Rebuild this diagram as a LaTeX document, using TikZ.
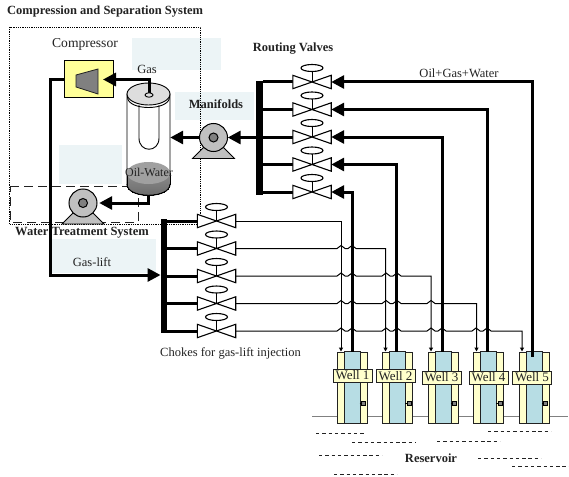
\documentclass[tikz,border=0pt]{standalone}
\usepackage{fontspec}
\setmainfont{Liberation Serif}
\usepackage{xcolor}
\definecolor{patchBlue}{HTML}{ECF4F6}
\definecolor{compYellow}{HTML}{FFFF99}
\definecolor{wellYellow}{HTML}{FFFFCC}
\definecolor{wellBlue}{HTML}{B7DDE4}
\definecolor{pumpGray}{HTML}{C0C0C0}
\definecolor{coreGray}{HTML}{808080}
\definecolor{capGray}{HTML}{DDDDDD}
\definecolor{darkText}{HTML}{222222}
\usepackage{tikz}
\usetikzlibrary{
    arrows.meta,
    shapes.geometric
}
\tikzset{
    % Base style for all labels
    plain label/.style={
        font=\fontsize{12.5}{13}\selectfont,
        text=darkText,
        inner sep=0pt,
    },
    bold label/.style={
        font=\fontsize{12.5}{13}\selectfont\bfseries,
        text=darkText,
        inner sep=0pt,
    },
    % Pale backing patches
    patch/.style={
        fill=patchBlue,
        draw=none,
    },
    % Valve body, the bow tie is drawn from its corners
    valve/.style={
        rectangle,
        minimum width=38pt,
        minimum height=13pt,
        inner sep=0pt,
    },
    bowtie/.style={
        draw=black,
        line width=1.1pt,
        fill=white,
    },
    % Pumps
    pump/.style={
        circle,
        draw=black,
        line width=1pt,
        fill=pumpGray,
        minimum size=28pt,
        inner sep=0pt,
    },
    pump foot/.style={
        draw=black,
        line width=0.8pt,
        fill=pumpGray,
    },
    % Heavy pipes
    pipe/.style={
        line width=3pt,
        draw=black,
    },
    pipe arrow/.style={
        pipe,
        -{Triangle[length=13pt, width=13pt]},
    },
    % Thin gas-lift lines
    lift line/.style={
        line width=1pt,
        draw=black,
        -{Triangle[length=4pt, width=4pt]},
    },
    % Manifold bars
    bar/.style={
        rectangle,
        fill=black,
        inner sep=0pt,
    },
    % Wells
    well/.style={
        rectangle,
        draw=darkText,
        line width=1pt,
        fill=wellYellow,
        minimum width=30pt,
        minimum height=71pt,
        inner sep=0pt,
    },
    well core/.style={
        draw=darkText,
        line width=1pt,
        fill=wellBlue,
    },
    well tag/.style={
        plain label,
        font=\fontsize{13}{14}\selectfont,
        rectangle,
        draw=darkText,
        line width=0.8pt,
        fill=wellYellow,
        minimum width=39pt,
        minimum height=13pt,
    },
    gauge/.style={
        rectangle,
        draw=black,
        line width=0.7pt,
        fill=coreGray,
        minimum size=4pt,
        inner sep=0pt,
    },
    % Reservoir strokes
    seam/.style={
        dashed,
        dash pattern=on 3.4pt off 2.9pt,
        line width=0.8pt,
        draw=darkText,
    },
}
\newcommand{\drawvalve}[1]{%
    \draw [bowtie] (#1.north west) -- (#1.south east) -- (#1.north east) -- (#1.south west) -- cycle;
    \draw [line width=1pt] (#1.center) -- ++(0,-11);
    \draw [bowtie] ([yshift=14pt]#1.center) ellipse [x radius=11pt, y radius=3.5pt];
}
\newcommand{\drawpumpbody}[1]{%
    \draw [pump foot] ([xshift=-21pt,yshift=-21pt]#1.center) -- ([xshift=-10pt,yshift=-10pt]#1.center)
        -- ([xshift=10pt,yshift=-10pt]#1.center) -- ([xshift=21pt,yshift=-21pt]#1.center) -- cycle;
    \node [pump] at (#1.center) {};
    \draw [line width=1pt, fill=coreGray] (#1.center) circle [radius=4.5pt];
}
\begin{document}
\begin{tikzpicture}[x=1pt, y=-1pt]
    \useasboundingbox (0,0) rectangle (569,476);

    % backing patches
    \fill [patch] (132,38) rectangle (221,70);
    \fill [patch] (175,92) rectangle (254,120);
    \fill [patch] (59,145) rectangle (122,184);
    \fill [patch] (52,239) rectangle (156,273);

    % system boxes
    \draw [densely dotted, line width=0.8pt] (9.5,27) rectangle (200.5,224);
    \draw [dashed, dash pattern=on 9pt off 5pt, line width=0.8pt, draw=darkText] (10,186) -- (138,186) -- (138,222) -- (10,222) -- cycle;

    % compressor
    \node (comp) [rectangle, draw=black, line width=1pt, fill=compYellow, minimum width=49pt, minimum height=37pt, inner sep=0pt] at (88.75,79.5) {};
    \draw [line width=0.8pt, draw=darkText, fill=coreGray] (76,75) -- (98,69) -- (98,94) -- (76,87) -- cycle;
    \coordinate (compin) at (103,79.5);

    % separator
    \node (sep) [rectangle, minimum width=43pt, minimum height=101pt, inner sep=0pt] at (148.5,144.5) {};
    \draw [line width=0.9pt, fill=white] (127,94) -- (127,184) .. controls (127,199) and (170,199) .. (170,184) -- (170,94) -- cycle;
    \draw [line width=0.9pt] (127.5,97) .. controls (127.5,111) and (169.5,111) .. (169.5,97);
    \draw [line width=0.9pt] (139,105) -- (139,138) .. controls (139,153) and (159,153) .. (159,138) -- (159,105);
    \draw [line width=0.9pt, fill=capGray] (148.5,94) ellipse [x radius=21.5pt, y radius=11pt];
    \draw [line width=0pt, top color=coreGray!90, bottom color=coreGray!80!black] (127,173) -- (127,184) .. controls (127,199) and (170,199) .. (170,184) -- (170,173) -- cycle;
    \draw [line width=0.9pt] (127,184) .. controls (127,199) and (170,199) .. (170,184);
    \fill [coreGray!75] (148.5,173) ellipse [x radius=21.5pt, y radius=11pt];
    \node (port) [ellipse, minimum width=8pt, minimum height=4.5pt, inner sep=0pt] at (149,95) {};

    % pumps
    \node (manpump) [circle, minimum size=28pt, inner sep=0pt] at (213.5,137.5) {};
    \drawpumpbody{manpump}
    \node (waterpump) [circle, minimum size=28pt, inner sep=0pt] at (83,203) {};
    \drawpumpbody{waterpump}

    % manifold bars
    \node (routebar) [bar, minimum width=7pt, minimum height=114pt] at (259.5,138) {};
    \node (chokebar) [bar, minimum width=6.5pt, minimum height=114pt] at (164,276) {};

    % routing valves
    \begin{scope}[node distance=27.5pt]
        \node (rv1) [valve] at (312,82) {};
        \node (rv2) [valve, below of=rv1] {};
        \node (rv3) [valve, below of=rv2] {};
        \node (rv4) [valve, below of=rv3] {};
        \node (rv5) [valve, below of=rv4] {};
    % chokes
        \node (ch1) [valve] at (216.5,221) {};
        \node (ch2) [valve, below of=ch1] {};
        \node (ch3) [valve, below of=ch2] {};
        \node (ch4) [valve, below of=ch3] {};
        \node (ch5) [valve, below of=ch4] {};
    \end{scope}

    % wells
    \draw [line width=1pt, draw=coreGray] (312,416) -- (568,416);
    \begin{scope}[node distance=45.5pt]
        \node (w1) [well] at (352,387.5) {};
        \node (w2) [well, right of=w1] {};
        \node (w3) [well, right of=w2] {};
        \node (w4) [well, right of=w3] {};
        \node (w5) [well, right of=w4] {};
    \end{scope}
    \foreach \i in {1,...,5} {
        \draw [well core] ([xshift=-8pt]w\i.north) rectangle ([xshift=8pt]w\i.south);
        \node (g\i) [gauge] at ([xshift=11.5pt,yshift=-15.5pt]w\i.center) {};
        \draw [line width=0.8pt] ([xshift=7.5pt,yshift=-15.5pt]w\i.center) -- (g\i.west);
    }

    % gas-lift lines with their hops
    \draw [lift line] (ch1.east) -| ([xshift=-11pt]w1.north);
    \foreach \c/\w/\s/\yc/\hops in {
        ch2/w2/-12/248.5/{341,352},
        ch3/w3/-12/276/{341,352,386,397},
        ch4/w4/-12/303.5/{341,352,386,397,431},
        ch5/w5/-12/331/{341,352,386,397,431,442,476,487}} {
        \draw [lift line] (\c.east) foreach \h in \hops { -- (\h-4,\yc) -- (\h,\yc-3) -- (\h+4,\yc) } -| ([xshift=\s pt]\w.north);
    }

    % heavy pipes
    \foreach \v in {rv1,rv2,rv3,rv4,rv5} {
        \draw [pipe] (routebar.east |- \v.west) -- (\v.west);
    }
    \foreach \v in {ch1,ch2,ch3,ch4,ch5} {
        \draw [pipe] (chokebar.east |- \v.west) -- (\v.west);
    }
    \draw [pipe arrow] ([xshift=0pt]w1.north) |- (rv5.east);
    \draw [pipe arrow] ([xshift=-1pt]w2.north) |- (rv4.east);
    \draw [pipe arrow] ([xshift=-1pt]w3.north) |- (rv3.east);
    \draw [pipe arrow] ([xshift=-1pt]w4.north) |- (rv2.east);
    \draw [pipe arrow] ([xshift=-2pt,yshift=-5pt]w5.north) |- (rv1.east);
    \draw [pipe arrow] (routebar.west |- manpump.east) -- (manpump.east);
    \draw [pipe arrow] (manpump.west) -- (sep.east |- manpump.west);
    \draw [pipe arrow] (sep.south) |- ([xshift=2pt]waterpump.east);
    \draw [pipe arrow] (port.center) |- (compin);
    \coordinate (liftturn) at (50,275);
    \draw [pipe arrow] (comp.west) -| (liftturn) -- (chokebar.west |- liftturn);

    % redraw bodies on top of the pipes
    \foreach \v in {rv1,rv2,rv3,rv4,rv5,ch1,ch2,ch3,ch4,ch5} {
        \drawvalve{\v}
    }
    \draw [line width=0.9pt, fill=capGray] (port) ellipse [x radius=4pt, y radius=2.2pt];

    % well tags
    \node (tag1) [well tag] at (352.5,375.5) {Well 1};
    \node (tag2) [well tag] at (395.5,376) {Well 2};
    \node (tag3) [well tag] at (441.5,377.5) {Well 3};
    \node (tag4) [well tag] at (488.5,377.5) {Well 4};
    \node (tag5) [well tag] at (532,377.5) {Well 5};

    % reservoir
    \foreach \xa/\xb/\ya in {316/366/433, 352/416/442, 437/500/441, 488/551/431, 319/382/455, 478/541/458, 512/569/466, 334/397/474} {
        \draw [seam] (\xa,\ya) -- (\xb,\ya);
    }

    % labels
    \node (sysname) [bold label, anchor=west] at (7,12) {Compression and Separation System};
    \node (compname) [plain label, font=\fontsize{13.6}{14}\selectfont] at (85,44.5) {Compressor};
    \node (gasname) [plain label] at (147,69) {Gas};
    \node (routename) [bold label] at (293,49) {Routing Valves};
    \node (manname) [bold label] at (216,104) {Manifolds};
    \node (oilname) [plain label, font=\fontsize{12}{13}\selectfont] at (149,172) {Oil-Water};
    \node (watername) [bold label, anchor=west] at (15,232.5) {Water Treatment System};
    \node (liftname) [plain label] at (92,262) {Gas-lift};
    \node (chokename) [plain label, anchor=west] at (160,353) {Chokes for gas-lift injection};
    \node (mixname) [plain label] at (459,73) {Oil+Gas+Water};
    \node (resname) [bold label] at (431,458) {Reservoir};
\end{tikzpicture}
\end{document}
